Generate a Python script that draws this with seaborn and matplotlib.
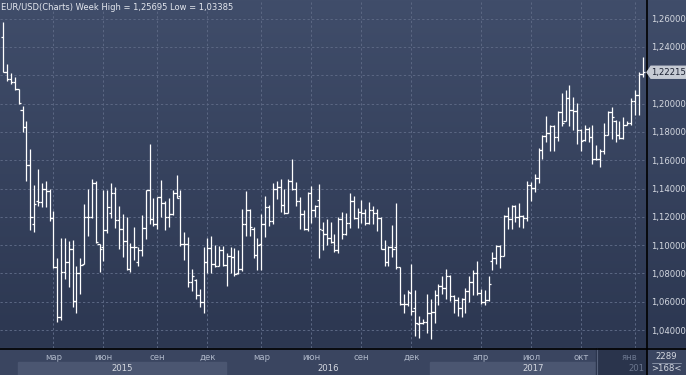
import numpy as np
import pandas as pd
import matplotlib
matplotlib.use("Agg")
import matplotlib.pyplot as plt
import seaborn as sns
from matplotlib.patches import Rectangle, Polygon
from matplotlib.lines import Line2D

# weekly EUR/USD bars
opens = [
    1.2470, 1.2224, 1.2176, 1.2150, 1.2100, 1.1953, 1.1835, 1.1565, 1.1146, 1.1313,
    1.1306, 1.1394, 1.1380, 1.1195, 1.0842, 1.0494, 1.0812, 1.0882, 1.0976, 1.0607,
    1.0800, 1.0866, 1.1200, 1.1200, 1.1442, 1.1005, 1.0984, 1.1106, 1.1226, 1.1370,
    1.1174, 1.1115, 1.1031, 1.0832, 1.0986, 1.0879, 1.0967, 1.1120, 1.1390, 1.1183,
    1.1151, 1.1343, 1.1300, 1.1197, 1.1218, 1.1366, 1.1350, 1.1008, 1.1008, 1.0738,
    1.0755, 1.0651, 1.0597, 1.0879, 1.0980, 1.0867, 1.0850, 1.0963, 1.0862, 1.0926,
    1.0916, 1.0800, 1.0832, 1.1150, 1.1249, 1.1113, 1.0932, 1.1010, 1.1150, 1.1268,
    1.1167, 1.1394, 1.1408, 1.1284, 1.1230, 1.1455, 1.1394, 1.1312, 1.1221, 1.1115,
    1.1366, 1.1249, 1.1322, 1.1110, 1.1078, 1.1047, 1.1024, 1.0969, 1.1181, 1.1082,
    1.1158, 1.1313, 1.1195, 1.1235, 1.1228, 1.1153, 1.1247, 1.1228, 1.1195, 1.0970,
    1.0882, 1.0984, 1.0990, 1.0842, 1.0581, 1.0584, 1.0660, 1.0553, 1.0442, 1.0447,
    1.0457, 1.0518, 1.0527, 1.0644, 1.0710, 1.0698, 1.0780, 1.0639, 1.0611, 1.0557,
    1.0616, 1.0679, 1.0738, 1.0800, 1.0663, 1.0600, 1.0611, 1.0886, 1.0907, 1.0996,
    1.0925, 1.1207, 1.1183, 1.1277, 1.1198, 1.1207, 1.1195, 1.1424, 1.1405, 1.1471,
    1.1675, 1.1770, 1.1793, 1.1840, 1.1762, 1.1941, 1.1880, 1.2040, 1.1958, 1.1946,
    1.1816, 1.1746, 1.1824, 1.1762, 1.1605, 1.1612, 1.1664, 1.1781, 1.1941, 1.1880,
    1.1776, 1.1758, 1.1852, 1.1864, 1.2016, 1.2064, 1.2209]
highs = [
    1.2576, 1.2278, 1.2219, 1.2188, 1.2106, 1.1981, 1.1875, 1.1682, 1.1424, 1.1536,
    1.1442, 1.1452, 1.1395, 1.1240, 1.0906, 1.1047, 1.1047, 1.1029, 1.1035, 1.0852,
    1.0906, 1.1289, 1.1395, 1.1464, 1.1455, 1.1005, 1.1388, 1.1390, 1.1441, 1.1408,
    1.1277, 1.1221, 1.1197, 1.1015, 1.1127, 1.0986, 1.1214, 1.1390, 1.1713, 1.1331,
    1.1343, 1.1460, 1.1312, 1.1331, 1.1390, 1.1495, 1.1390, 1.1090, 1.1055, 1.0832,
    1.0760, 1.0691, 1.0986, 1.1050, 1.1066, 1.1003, 1.0996, 1.0996, 1.0944, 1.0989,
    1.0979, 1.0968, 1.1256, 1.1380, 1.1254, 1.1125, 1.1050, 1.1221, 1.1348, 1.1282,
    1.1441, 1.1455, 1.1465, 1.1394, 1.1465, 1.1612, 1.1448, 1.1343, 1.1249, 1.1378,
    1.1418, 1.1284, 1.1431, 1.1165, 1.1181, 1.1165, 1.1082, 1.1198, 1.1235, 1.1224,
    1.1365, 1.1346, 1.1259, 1.1322, 1.1252, 1.1306, 1.1275, 1.1252, 1.1200, 1.1035,
    1.0993, 1.1141, 1.1299, 1.0845, 1.0654, 1.0682, 1.0870, 1.0682, 1.0499, 1.0475,
    1.0658, 1.0620, 1.0686, 1.0722, 1.0780, 1.0832, 1.0792, 1.0651, 1.0635, 1.0628,
    1.0698, 1.0785, 1.0827, 1.0891, 1.0691, 1.0682, 1.0780, 1.0949, 1.1003, 1.1003,
    1.1214, 1.1268, 1.1284, 1.1284, 1.1301, 1.1214, 1.1452, 1.1447, 1.1499, 1.1687,
    1.1781, 1.1911, 1.1852, 1.1852, 1.1951, 1.2075, 1.2099, 1.2134, 1.2045, 1.2005,
    1.1824, 1.1852, 1.1833, 1.1847, 1.1706, 1.1682, 1.1864, 1.1951, 1.1974, 1.1885,
    1.1875, 1.1904, 1.1880, 1.2036, 1.2099, 1.2223, 1.2329]
lows = [
    1.2224, 1.2160, 1.2141, 1.2099, 1.2000, 1.1800, 1.1454, 1.1106, 1.1094, 1.1275,
    1.1266, 1.1271, 1.1172, 1.0835, 1.0459, 1.0471, 1.0758, 1.0706, 1.0560, 1.0518,
    1.0654, 1.0866, 1.1064, 1.1195, 1.1017, 1.0812, 1.0890, 1.1085, 1.1190, 1.1120,
    1.0972, 1.0916, 1.0827, 1.0808, 1.0893, 1.0850, 1.0921, 1.1043, 1.1151, 1.1132,
    1.1115, 1.1197, 1.1108, 1.1127, 1.1214, 1.1336, 1.0996, 1.0897, 1.0705, 1.0675,
    1.0621, 1.0564, 1.0517, 1.0800, 1.0800, 1.0842, 1.0850, 1.0850, 1.0709, 1.0805,
    1.0785, 1.0797, 1.0815, 1.1061, 1.1061, 1.0909, 1.0822, 1.0822, 1.1057, 1.1137,
    1.1151, 1.1324, 1.1231, 1.1221, 1.1225, 1.1390, 1.1277, 1.1115, 1.1108, 1.1101,
    1.1155, 1.1202, 1.0906, 1.0965, 1.1000, 1.1012, 1.0953, 1.0946, 1.1040, 1.1071,
    1.1118, 1.1181, 1.1118, 1.1158, 1.1141, 1.1148, 1.1148, 1.1101, 1.0970, 1.0852,
    1.0852, 1.0913, 1.0828, 1.0576, 1.0518, 1.0569, 1.0506, 1.0358, 1.0346, 1.0440,
    1.0377, 1.0339, 1.0452, 1.0574, 1.0656, 1.0616, 1.0604, 1.0522, 1.0499, 1.0494,
    1.0522, 1.0597, 1.0644, 1.0651, 1.0581, 1.0574, 1.0604, 1.0827, 1.0869, 1.0839,
    1.0925, 1.1113, 1.1113, 1.1160, 1.1127, 1.1120, 1.1169, 1.1311, 1.1376, 1.1440,
    1.1612, 1.1729, 1.1664, 1.1664, 1.1734, 1.1840, 1.1875, 1.1840, 1.1816, 1.1715,
    1.1668, 1.1739, 1.1730, 1.1574, 1.1598, 1.1551, 1.1645, 1.1780, 1.1753, 1.1729,
    1.1748, 1.1748, 1.1847, 1.1852, 1.1918, 1.1918, 1.2187]
closes = [
    1.2224, 1.2176, 1.2153, 1.2100, 1.2005, 1.1835, 1.1565, 1.1200, 1.1287, 1.1306,
    1.1394, 1.1380, 1.1195, 1.0842, 1.0494, 1.0812, 1.0882, 1.0976, 1.0607, 1.0800,
    1.0859, 1.1200, 1.1200, 1.1442, 1.1019, 1.0976, 1.1106, 1.1268, 1.1366, 1.1174,
    1.1115, 1.1031, 1.0832, 1.0986, 1.0984, 1.0967, 1.1120, 1.1390, 1.1183, 1.1151,
    1.1343, 1.1300, 1.1197, 1.1218, 1.1366, 1.1336, 1.1008, 1.1008, 1.0738, 1.0780,
    1.0651, 1.0597, 1.0879, 1.0980, 1.0867, 1.0850, 1.0963, 1.0862, 1.0926, 1.0916,
    1.0797, 1.0832, 1.1150, 1.1249, 1.1127, 1.0932, 1.1003, 1.1150, 1.1268, 1.1167,
    1.1394, 1.1408, 1.1284, 1.1230, 1.1455, 1.1394, 1.1312, 1.1221, 1.1115, 1.1366,
    1.1249, 1.1275, 1.1111, 1.1078, 1.1047, 1.1024, 1.0969, 1.1181, 1.1082, 1.1158,
    1.1313, 1.1195, 1.1235, 1.1228, 1.1153, 1.1247, 1.1228, 1.1195, 1.0970, 1.0882,
    1.0984, 1.0976, 1.0847, 1.0581, 1.0584, 1.0671, 1.0534, 1.0447, 1.0447, 1.0460,
    1.0518, 1.0527, 1.0644, 1.0710, 1.0698, 1.0780, 1.0639, 1.0611, 1.0557, 1.0616,
    1.0679, 1.0738, 1.0800, 1.0663, 1.0600, 1.0611, 1.0728, 1.0907, 1.0996, 1.0925,
    1.1207, 1.1183, 1.1277, 1.1198, 1.1207, 1.1195, 1.1424, 1.1405, 1.1471, 1.1675,
    1.1770, 1.1793, 1.1840, 1.1762, 1.1941, 1.1864, 1.2040, 1.1958, 1.1946, 1.1816,
    1.1734, 1.1824, 1.1762, 1.1605, 1.1612, 1.1664, 1.1781, 1.1941, 1.1904, 1.1776,
    1.1758, 1.1852, 1.1864, 1.2016, 1.2064, 1.2209, 1.22215]

price_ticks = [1.04, 1.06, 1.08, 1.10, 1.12, 1.14, 1.16, 1.18, 1.20, 1.22, 1.24, 1.26]
month_labels = ['мар', 'июн', 'сен', 'дек', 'мар', 'июн', 'сен', 'дек', 'апр', 'июл', 'окт', 'янв']
month_weeks = [13, 26, 40, 53, 67, 80, 93, 106, 124, 137, 150, 164]
year_labels = ['2015', '2016', '2017']
year_bounds = [3.8, 57.8, 110.8, 164.4]
last_close = 1.22215
title = 'EUR/USD(Charts) Week High = 1,25695 Low = 1,03385'
bars_total = '2289'
bars_shown = '>168<'

df = pd.DataFrame({'open': opens, 'high': highs, 'low': lows, 'close': closes})
df['week'] = np.arange(len(df))

sns.set_style("dark")
plt.rcParams['font.family'] = ['DejaVu Sans']

W, H = 686, 375
PLOT_R, PLOT_B = 646, 348
FS = 6.1


def fx(x):
    return x / W


def fy(y):
    return 1 - y / H


fig = plt.figure(figsize=(W / 100, H / 100), dpi=100)

# background: gradient over chart + right scale, flat strip at the bottom
bg = fig.add_axes([0, 0, 1, 1])
bg.set_xlim(0, W)
bg.set_ylim(H, 0)
bg.axis('off')
top_c = np.array([0x40, 0x4d, 0x6a]) / 255
bot_c = np.array([0x2c, 0x37, 0x51]) / 255
t = np.linspace(0, 1, 200)[:, None, None]
grad = np.repeat(top_c * (1 - t) + bot_c * t, 2, axis=1)
bg.imshow(grad, extent=(0, W, PLOT_B, 0), aspect='auto', zorder=0)
bg.add_patch(Rectangle((0, PLOT_B), W, H - PLOT_B, color='#3a4560', zorder=1))

ax = fig.add_axes([0, fy(PLOT_B), fx(PLOT_R), PLOT_B / H])
ax.patch.set_alpha(0)
ax.set_xlim(-0.86, 166.9)
ax.set_ylim(1.0273, 1.2732)

ax.vlines(df['week'], df['low'], df['high'], color='white', lw=0.9, zorder=3)
ax.hlines(df['open'], df['week'] - 0.6, df['week'], color='white', lw=0.9, zorder=3)
ax.hlines(df['close'], df['week'], df['week'] + 0.6, color='white', lw=0.9, zorder=3)

ax.set_xticks(month_weeks)
ax.set_xticklabels(month_labels)
ax.set_yticks(price_ticks)
# the 1,22000 label sits under the last-price box in the original
ax.set_yticklabels(['' if abs(p - 1.22) < 1e-9 else f'{p:.5f}'.replace('.', ',')
                    for p in price_ticks])
ax.yaxis.tick_right()
ax.tick_params(axis='y', length=0, pad=3.5, labelsize=FS, labelcolor='#d4d8e0')
ax.tick_params(axis='x', length=0, pad=3.5, labelsize=FS, labelcolor='#aeb7c8')
ax.grid(True, color='#5a6682', linestyle=(0, (2.2, 2.2)), linewidth=0.75)
for side in ['top', 'left', 'right', 'bottom']:
    ax.spines[side].set_visible(False)
for lab in ax.get_xticklabels():
    if lab.get_text() == 'янв':
        lab.set_visible(False)

# year band below the month labels
trans = ax.get_xaxis_transform()
band_y0 = (PLOT_B - H) / PLOT_B
band_y1 = (PLOT_B - 362) / PLOT_B
for i, lab in enumerate(year_labels):
    x0, x1 = year_bounds[i], year_bounds[i + 1]
    if i % 2 == 0:
        ax.add_patch(Rectangle((x0, band_y0), x1 - x0, band_y1 - band_y0, transform=trans,
                               color='#4b5671', clip_on=False, zorder=2))
    ax.text((x0 + x1) / 2, (band_y0 + band_y1) / 2, lab, transform=trans, ha='center',
            va='center', fontsize=FS, color='#d4d8e0', clip_on=False, zorder=3)

# overlay layer for things drawn on top of the chart
top = fig.add_axes([0, 0, 1, 1])
top.set_xlim(0, W)
top.set_ylim(H, 0)
top.axis('off')
top.patch.set_alpha(0)

# dimmed scroll box at the right end of the time axis
top.add_patch(Rectangle((596, PLOT_B), PLOT_R - 596, H - PLOT_B, color='#2a344c', zorder=2))
top.plot([596.5, 596.5], [PLOT_B, H], color='#56617a', lw=0.8, zorder=3)
top.text(629, 357.5, 'янв', ha='center', va='center', fontsize=FS, color='#6b768e', zorder=4)
top.text(645, 368.5, '201', ha='right', va='center', fontsize=FS, color='#6b768e', zorder=4)

# frame lines
top.add_line(Line2D([0, W], [PLOT_B + 0.5, PLOT_B + 0.5], color='black', lw=1.2, zorder=5))
top.add_line(Line2D([PLOT_R + 0.5, PLOT_R + 0.5], [0, H], color='black', lw=1.2, zorder=5))

# bar counter box
top.text(666, 356.5, bars_total, ha='center', va='center', fontsize=FS, color='#d4d8e0', zorder=4)
top.add_line(Line2D([652, 681], [362.5, 362.5], color='#8f99ad', lw=0.6, zorder=4))
top.text(666, 368.5, bars_shown, ha='center', va='center', fontsize=FS, color='#d4d8e0', zorder=4)

# last price marker on the scale
yl = ax.transData.transform((0, last_close))[1]
ylp = H - yl * H / fig.bbox.height
top.add_patch(Polygon([[PLOT_R + 1, ylp], [PLOT_R + 5, ylp - 6], [W, ylp - 6], [W, ylp + 6],
                       [PLOT_R + 5, ylp + 6]], closed=True, color='#c6cbd4', zorder=6))
top.text(PLOT_R + 5, ylp, f'{last_close:.5f}'.replace('.', ','), ha='left', va='center',
         fontsize=FS, color='#1b2132', zorder=7)

fig.text(fx(1), fy(7), title, ha='left', va='center', fontsize=6.0, color='#e4e7ee')

fig.savefig('out.png', dpi=100)
